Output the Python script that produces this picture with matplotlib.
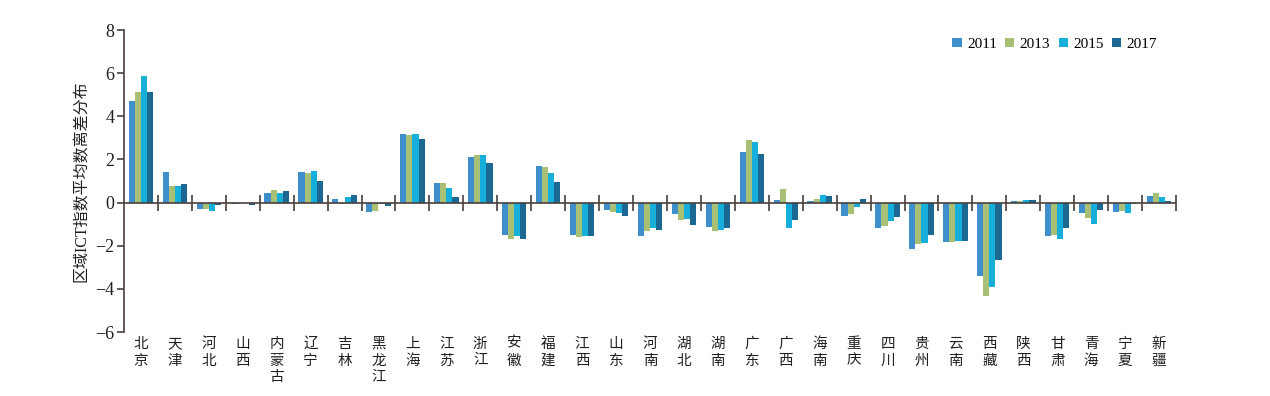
import numpy as np
import matplotlib
matplotlib.use("Agg")
import matplotlib.pyplot as plt

plt.rcParams['font.family'] = ['Liberation Serif', 'Noto Sans CJK SC']
plt.rcParams['axes.unicode_minus'] = True

# data
provinces = ['北京', '天津', '河北', '山西', '内蒙古', '辽宁', '吉林', '黑龙江', '上海', '江苏',
             '浙江', '安徽', '福建', '江西', '山东', '河南', '湖北', '湖南', '广东', '广西',
             '海南', '重庆', '四川', '贵州', '云南', '西藏', '陕西', '甘肃', '青海', '宁夏', '新疆']
years = ['2011', '2013', '2015', '2017']

v2011 = [4.71, 1.44, -0.28, -0.08, 0.45, 1.40, 0.16, -0.45, 3.20, 0.92,
         2.11, -1.50, 1.71, -1.49, -0.35, -1.53, -0.52, -1.13, 2.35, 0.10,
         0.07, -0.60, -1.20, -2.13, -1.84, -3.41, 0.08, -1.56, -0.49, -0.42, 0.32]
v2013 = [5.14, 0.79, -0.31, -0.03, 0.59, 1.36, -0.05, -0.41, 3.14, 0.92,
         2.21, -1.69, 1.63, -1.60, -0.45, -1.32, -0.83, -1.30, 2.90, 0.65,
         0.17, -0.54, -1.08, -1.94, -1.82, -4.35, 0.07, -1.48, -0.72, -0.37, 0.43]
v2015 = [5.87, 0.76, -0.37, -0.03, 0.44, 1.47, 0.27, -0.05, 3.16, 0.69,
         2.21, -1.55, 1.39, -1.55, -0.48, -1.17, -0.76, -1.27, 2.80, -1.19,
         0.35, -0.20, -0.85, -1.86, -1.76, -3.92, 0.14, -1.67, -0.97, -0.46, 0.26]
v2017 = [5.12, 0.88, -0.12, -0.10, 0.55, 0.99, 0.36, -0.18, 2.95, 0.26,
         1.82, -1.70, 0.94, -1.55, -0.62, -1.25, -1.02, -1.16, 2.25, -0.82,
         0.31, 0.15, -0.67, -1.49, -1.78, -2.64, 0.10, -1.17, -0.35, -0.06, 0.07]

series = [v2011, v2013, v2015, v2017]
colors = ['#3f8fcd', '#a7c076', '#16afdc', '#1b6892']

fig = plt.figure(figsize=(12.7, 3.96), dpi=100)
ax = fig.add_axes([0.0976, 0.1616, 0.8284, 0.7626])

x = np.arange(len(provinces))
w = 0.18
for i, (vals, c, yr) in enumerate(zip(series, colors, years)):
    ax.bar(x + (i - 1.5) * w, vals, width=w, color=c, label=yr, linewidth=0)

ax.set_xlim(-0.5, len(provinces) - 0.5)
ax.set_ylim(-6, 8)
ax.set_yticks([-6, -4, -2, 0, 2, 4, 6, 8])

axis_col = '#4a3f3c'
ax.spines['top'].set_visible(False)
ax.spines['right'].set_visible(False)
ax.spines['bottom'].set_position(('data', 0))
for s in ['left', 'bottom']:
    ax.spines[s].set_color(axis_col)
    ax.spines[s].set_linewidth(1.2)

ax.set_xticks(x + 0.5)
ax.set_xticklabels([])
ax.tick_params(axis='x', direction='inout', length=11, width=1.2, color=axis_col)
ax.tick_params(axis='y', direction='out', length=5, width=1.2, color=axis_col,
               labelsize=13, labelcolor='#231f20', pad=2)

# stacked (vertical) province names under the plot
for i, name in enumerate(provinces):
    ax.text(i, -6.22, '\n'.join(name), ha='center', va='top', fontsize=10.5,
            linespacing=1.25, color='#231f20', family=['Noto Sans CJK SC'])

ax.set_ylabel('区域ICT指数平均数离差分布', fontsize=11.5, color='#231f20',
              family=['Liberation Serif', 'Noto Sans CJK SC'], labelpad=4)

ax.legend(loc='upper right', bbox_to_anchor=(0.995, 1.02), ncol=4, frameon=False,
          fontsize=11, handlelength=0.6, handleheight=0.6, handletextpad=0.35,
          columnspacing=0.55)

fig.savefig('out.png', dpi=100)
